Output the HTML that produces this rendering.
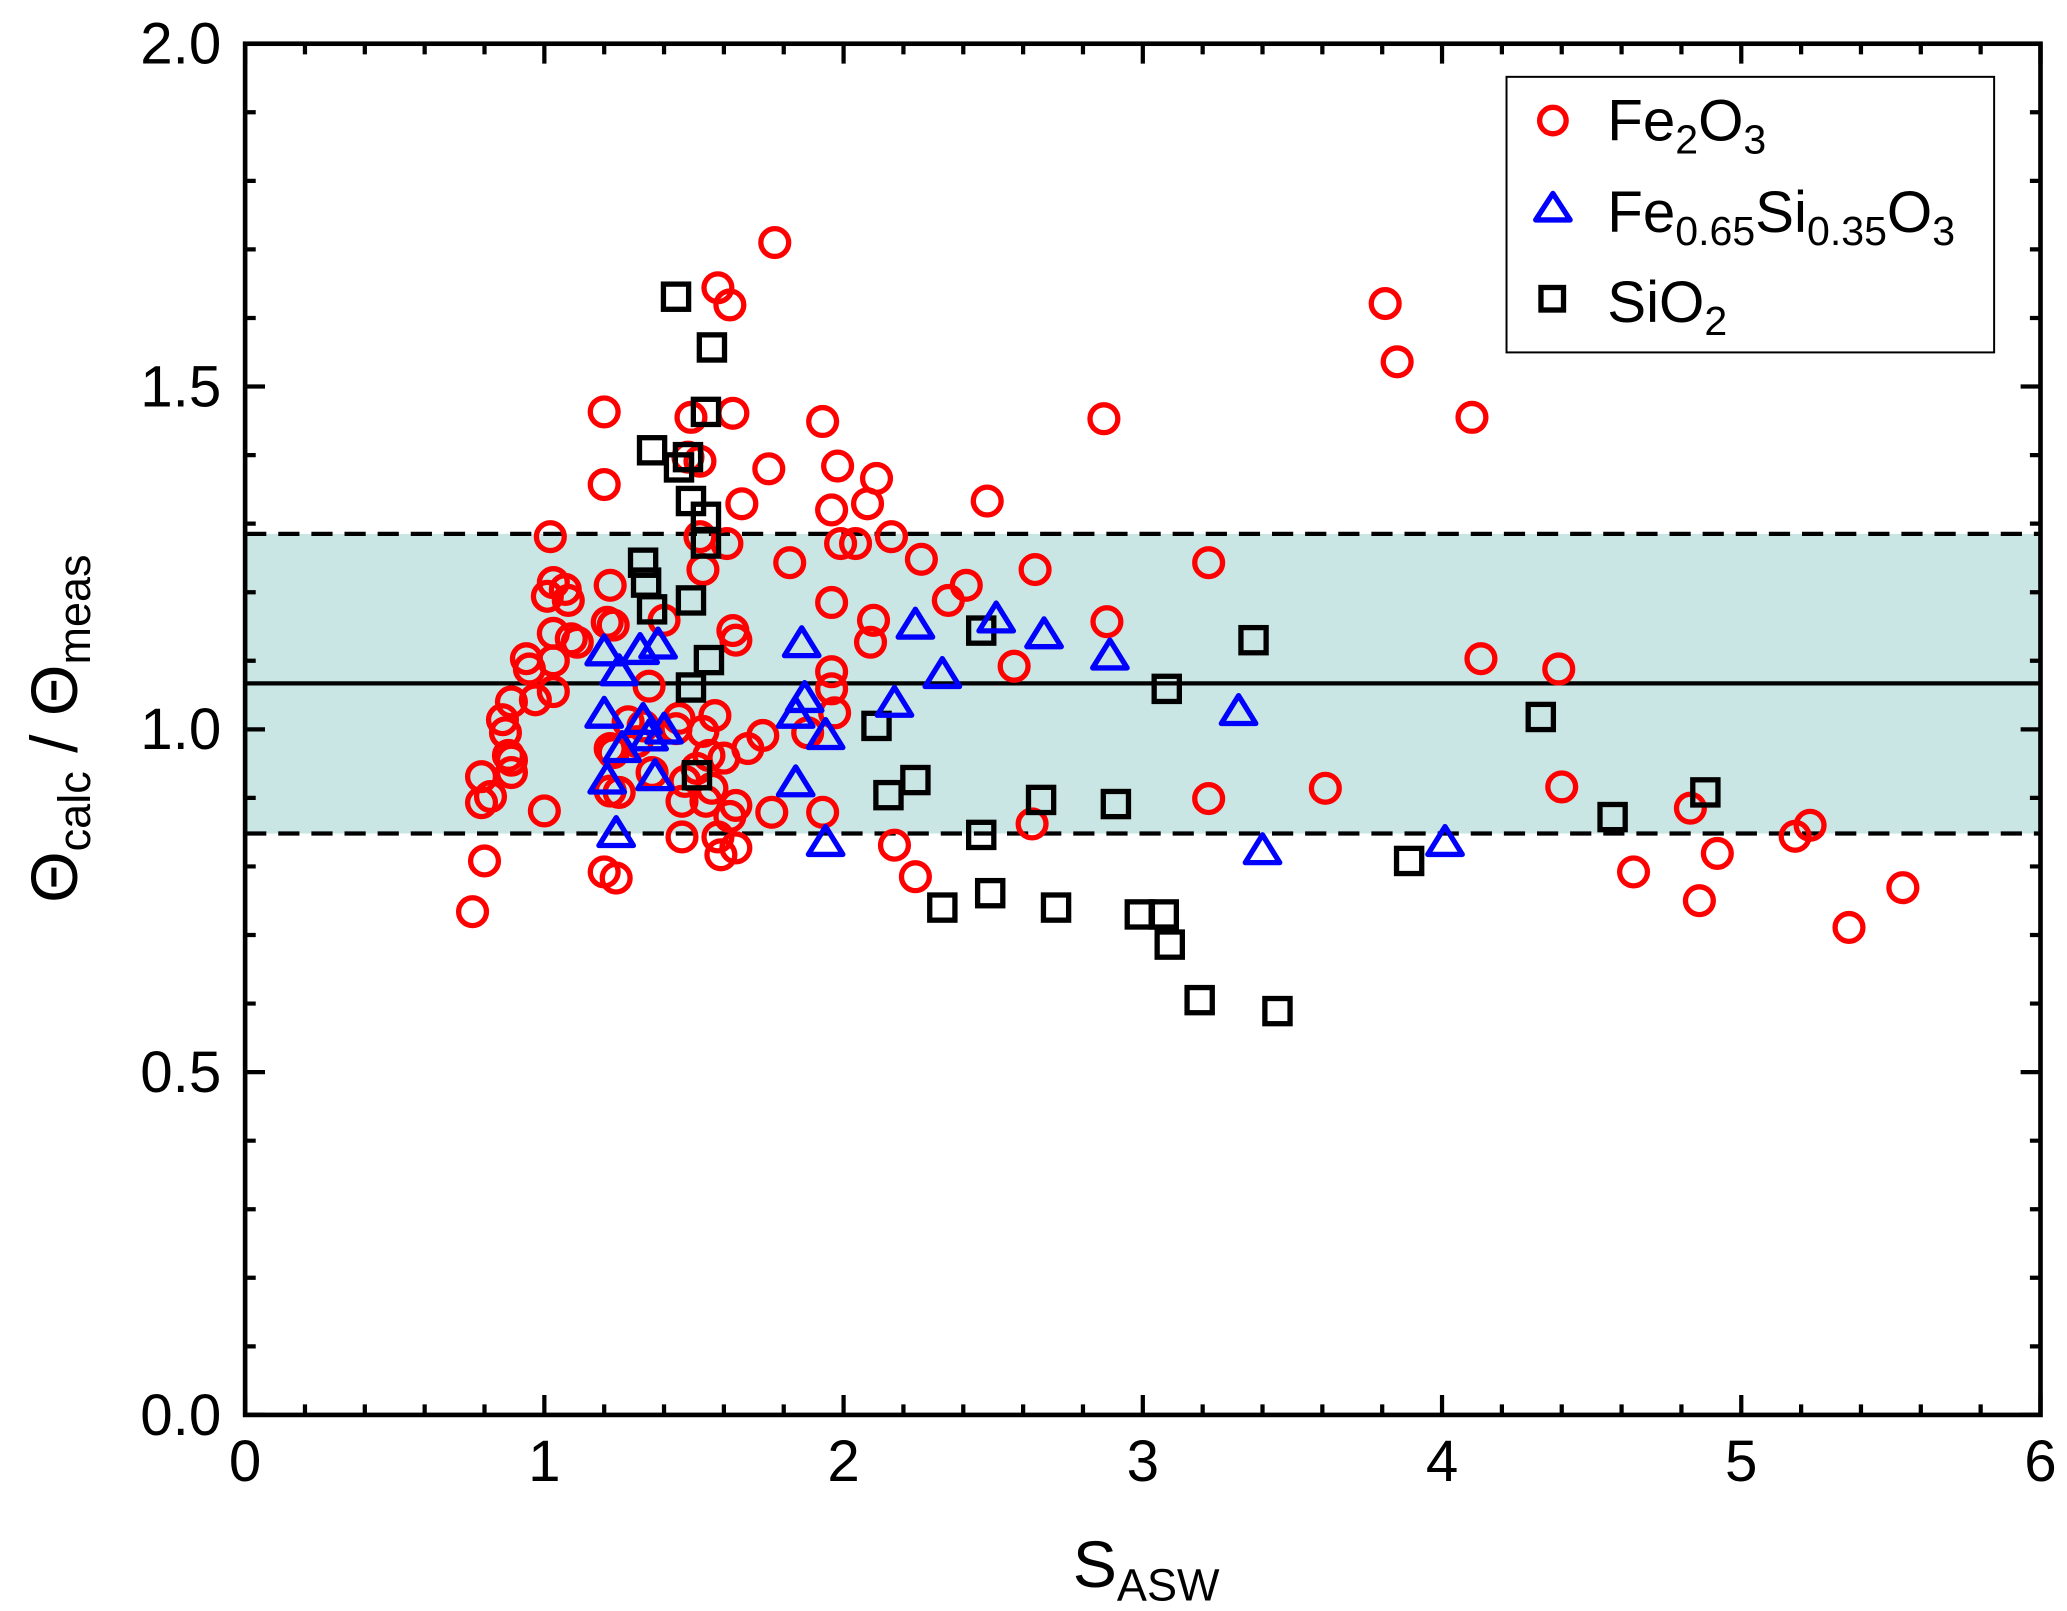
<!DOCTYPE html>
<html><head><meta charset="utf-8"><style>
html,body{margin:0;padding:0;background:#fff;}
svg{display:block;font-family:"Liberation Sans",Arial,sans-serif;}
</style></head><body>
<svg id="chart" width="2067" height="1611" viewBox="0 0 1560 1216" preserveAspectRatio="none" xmlns="http://www.w3.org/2000/svg">
<g id="band"></g>
<g id="marks"></g>
<g id="axes"></g>
<text transform="translate(58,550) rotate(-90)" text-anchor="middle" font-size="50">Θ<tspan font-size="34" dy="10">calc</tspan><tspan dy="-10"> / Θ</tspan><tspan font-size="34" dy="10">meas</tspan></text>
<text x="865" y="1198" text-anchor="middle" font-size="50">S<tspan font-size="34" dy="10">ASW</tspan></text>
<g>
<rect x="1137" y="58" width="368" height="208" fill="#fff" stroke="#000" stroke-width="1.5"/>
<circle cx="1172" cy="91" r="10" fill="none" stroke="#f00" stroke-width="4"/>
<text x="1213" y="106" font-size="44">Fe<tspan font-size="31" dy="10">2</tspan><tspan dy="-10">O</tspan><tspan font-size="31" dy="10">3</tspan></text>
<path d="M1172,146 L1185,166 L1159,166 Z" fill="none" stroke="#00f" stroke-width="4" stroke-linejoin="round"/>
<text x="1213" y="175" font-size="44">Fe<tspan font-size="31" dy="10">0.65</tspan><tspan dy="-10">Si</tspan><tspan font-size="31" dy="10">0.35</tspan><tspan dy="-10">O</tspan><tspan font-size="31" dy="10">3</tspan></text>
<rect x="1163" y="217" width="17" height="17" fill="none" stroke="#000" stroke-width="4"/>
<text x="1213" y="243" font-size="44">SiO<tspan font-size="31" dy="10">2</tspan></text>
</g>
</svg>
<script>
const xTicks=[0,1,2,3,4,5,6];
const yTicks=[0.0,0.5,1.0,1.5,2.0];
const yTickLabels=["0.0","0.5","1.0","1.5","2.0"];
const meanLine=1.067;
const bandLow=0.848;
const bandHigh=1.285;
const fe2o3X=[0.76,0.79,0.80,0.79,0.82,0.86,0.87,0.88,0.89,0.89,0.89,0.94,0.95,0.97,1.00,1.01,1.03,1.02,1.03,1.03,1.03,1.07,1.08,1.09,1.11,1.20,1.20,1.21,1.22,1.22,1.22,1.23,1.23,1.24,1.20,1.25,1.28,1.31,1.33,1.35,1.36,1.40,1.44,1.45,1.46,1.46,1.47,1.48,1.49,1.51,1.52,1.52,1.53,1.53,1.54,1.55,1.56,1.57,1.58,1.58,1.59,1.60,1.61,1.62,1.62,1.63,1.63,1.64,1.64,1.64,1.66,1.68,1.73,1.76,1.77,1.75,1.82,1.88,1.93,1.93,1.96,1.96,1.96,1.96,1.97,1.98,1.99,2.04,2.08,2.09,2.10,2.11,2.16,2.17,2.24,2.26,2.35,2.41,2.48,2.57,2.63,2.64,2.87,2.88,3.22,3.22,3.61,3.81,3.85,4.10,4.13,4.39,4.40,4.64,4.86,4.92,5.18,5.23,5.36,5.54,4.83];
const fe2o3Y=[0.734,0.931,0.808,0.893,0.902,1.014,0.995,0.962,0.955,0.937,1.040,1.103,1.088,1.043,0.881,1.194,1.214,1.281,1.140,1.100,1.055,1.204,1.188,1.132,1.127,1.357,1.463,1.156,1.210,0.972,0.910,0.966,1.152,0.783,0.792,0.908,1.011,0.982,1.005,1.063,0.937,1.159,1.001,1.016,0.843,0.895,0.924,1.397,1.455,0.943,1.281,1.391,0.997,1.233,0.895,0.962,0.914,1.020,1.644,0.843,0.817,0.958,1.271,1.619,0.873,1.461,1.144,1.130,0.827,0.889,1.329,0.972,0.991,0.879,1.710,1.380,1.243,0.995,1.449,0.879,1.084,1.320,1.185,1.059,1.024,1.384,1.271,1.271,1.329,1.127,1.159,1.366,1.281,0.831,0.785,1.248,1.188,1.210,1.333,1.092,0.862,1.233,1.453,1.157,1.243,0.899,0.914,1.621,1.536,1.455,1.103,1.088,0.916,0.792,0.750,0.819,0.844,0.860,0.711,0.769,0.885];
const fesioX=[1.20,1.20,1.21,1.24,1.25,1.26,1.32,1.33,1.35,1.37,1.38,1.40,1.84,1.84,1.86,1.87,1.94,1.94,2.17,2.24,2.33,2.51,2.67,2.89,3.32,3.40,4.01];
const fesioY=[1.111,1.020,0.924,0.846,1.082,0.970,1.113,1.011,0.987,0.929,1.121,0.997,0.920,1.020,1.123,1.043,0.989,0.833,1.036,1.150,1.078,1.159,1.136,1.105,1.024,0.821,0.833];
const sio2X=[1.44,1.56,1.54,1.36,1.48,1.45,1.49,1.54,1.54,1.33,1.34,1.36,1.49,1.55,1.49,1.51,2.11,2.15,2.24,2.33,2.46,2.46,2.49,2.66,2.71,2.91,2.99,3.07,3.08,3.09,3.19,3.37,3.45,3.89,4.33,4.57,4.88];
const sio2Y=[1.631,1.557,1.463,1.407,1.397,1.382,1.333,1.310,1.271,1.243,1.214,1.175,1.188,1.101,1.061,0.933,1.005,0.904,0.926,0.740,1.144,0.846,0.761,0.897,0.740,0.891,0.730,0.730,1.059,0.686,0.605,1.130,0.589,0.808,1.018,0.872,0.908];

const L=185,R=1540,T=33,B=1068;
function sx(v){return L+(v-0)/(6-0)*(R-L);}
function sy(v){return B-(v-0)/(2-0)*(B-T);}
const NS='http://www.w3.org/2000/svg';
function mk(tag,attrs,parent){const e=document.createElementNS(NS,tag);for(const k in attrs)e.setAttribute(k,attrs[k]);parent.appendChild(e);return e;}
const band=document.getElementById('band'),marks=document.getElementById('marks'),axes=document.getElementById('axes');

let e=mk('rect',{x:L,y:sy(bandHigh),width:R-L,height:sy(bandLow)-sy(bandHigh),fill:'#c9e6e4'},band);


e=mk('line',{x1:L,x2:R,y1:sy(bandHigh),y2:sy(bandHigh),stroke:'#000','stroke-width':3.2,'stroke-dasharray':'16,9'},band);


e=mk('line',{x1:L,x2:R,y1:sy(bandLow),y2:sy(bandLow),stroke:'#000','stroke-width':3.2,'stroke-dasharray':'16,9'},band);


e=mk('line',{x1:L,x2:R,y1:sy(meanLine),y2:sy(meanLine),stroke:'#000','stroke-width':3.2},band);



fe2o3X.forEach((x,i)=>{
  const c=mk('circle',{cx:sx(x),cy:sy(fe2o3Y[i]),r:10.5,fill:'none',stroke:'#f00','stroke-width':4},marks);
  
  
});
sio2X.forEach((x,i)=>{
  const px=sx(x),py=sy(sio2Y[i]);
  const s=mk('rect',{x:px-9.5,y:py-9.5,width:19,height:19,fill:'none',stroke:'#000','stroke-width':4},marks);
  
  
});
fesioX.forEach((x,i)=>{
  const px=sx(x),py=sy(fesioY[i]);
  const t=mk('path',{d:`M${px},${py-13} L${px+13},${py+8} L${px-13},${py+8} Z`,fill:'none',stroke:'#00f','stroke-width':4,'stroke-linejoin':'round'},marks);
  
  
});

e=mk('rect',{x:L,y:T,width:R-L,height:B-T,fill:'none',stroke:'#000','stroke-width':3.5},axes);


let d='';
for(let i=0;i<=30;i++){const v=i*0.2;const x=sx(v);const len=(i%5===0)?15:8;d+=`M${x},${B}v${-len}M${x},${T}v${len}`;}
for(let i=0;i<=20;i++){const v=i*0.1;const y=sy(v);const len=(i%5===0)?15:8;d+=`M${L},${y}h${len}M${R},${y}h${-len}`;}
e=mk('path',{d:d,stroke:'#000','stroke-width':3.2,fill:'none'},axes);


xTicks.forEach(v=>{
  const t=mk('text',{x:sx(v),y:B+50,'text-anchor':'middle','font-size':44},axes);
  t.textContent=String(v);
  
  
});
yTicks.forEach((v,i)=>{
  const t=mk('text',{x:L-18,y:sy(v)+15,'text-anchor':'end','font-size':44},axes);
  t.textContent=yTickLabels[i];
  
  
});
</script>
</body></html>
